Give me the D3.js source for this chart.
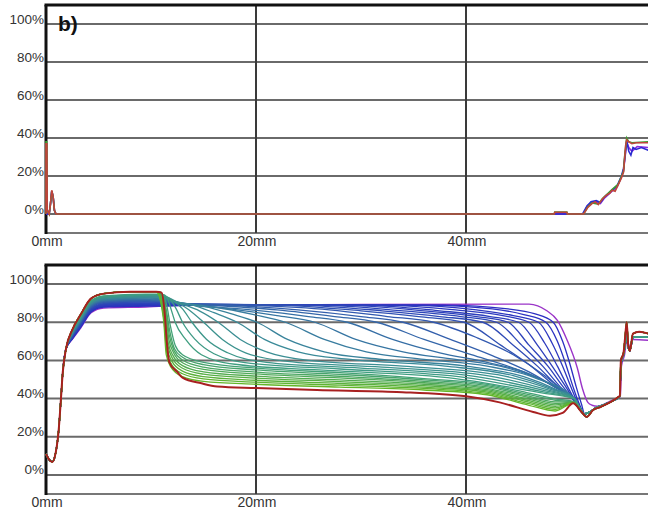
<!DOCTYPE html>
<html><head><meta charset="utf-8">
<script src="https://cdn.jsdelivr.net/npm/d3@7"></script>
<style>body{margin:0;background:#fff}svg{display:block}text{font-family:"Liberation Sans",Arial,sans-serif}</style>
</head><body><svg id="c" width="648" height="513"></svg>
<script>
// ---------- axis data ----------
const yTicks = [0, 20, 40, 60, 80, 100];
const yTickLabels = ["0%", "20%", "40%", "60%", "80%", "100%"];
const xTicks = [0, 20, 40];
const xTickLabels = ["0mm", "20mm", "40mm"];
const panelLabel = "b)";

// ---------- top panel series [mm, %] ----------
const topRed = [[0,0],[0,37],[0.08,37],[0.12,2],[0.3,0],[0.42,5],[0.55,12.5],[0.68,9],[0.8,2],[0.95,0],[48.4,0],[48.45,0.9],[49.6,0.9],[49.65,0],[51.2,0],[51.6,3.5],[52.0,5.5],[52.3,6.5],[52.6,5],[53.0,8],[53.4,10],[53.7,11],[53.9,12.5],[54.2,12],[54.5,15.5],[54.8,19],[55.0,22],[55.1,29],[55.2,36],[55.3,39],[55.5,38],[55.8,37],[56.2,37.5],[57.4,37.5]];
const topBlue = [[0,0],[0.3,0],[0.42,5],[0.55,12],[0.68,9],[0.8,2],[0.95,0],[51.1,0],[51.5,4],[51.9,6.5],[52.4,7],[52.8,6],[53.2,9],[53.6,11],[54.0,13],[54.4,15],[54.8,20],[55.0,24],[55.15,31],[55.3,38.5],[55.5,33],[55.7,31],[55.9,35],[56.2,34],[56.7,35],[57.4,33.5]];
const topPurple = [[0,0],[0.3,0],[0.42,5],[0.55,12],[0.68,9],[0.8,2],[0.95,0],[51.15,0],[51.55,4.5],[51.95,6],[52.4,6.5],[52.8,5.5],[53.2,8.5],[53.6,10.5],[54.0,12.5],[54.4,14.5],[54.8,19.5],[55.0,23],[55.15,30],[55.3,38],[55.5,35],[55.8,33],[56.3,35.5],[57.4,35]];
const topGreen = [[0,0],[0,38],[0.06,38],[0.12,2],[0.3,0],[0.42,5],[0.55,12],[0.68,9],[0.8,2],[0.95,0],[48.4,0],[48.45,1],[49.6,1],[49.65,0],[51.2,0],[51.6,3.8],[52.0,5.8],[52.6,5.2],[53.0,8.2],[53.4,10.2],[53.9,12.8],[54.5,15.8],[55.0,22.5],[55.1,30],[55.3,40],[55.5,38],[55.8,37.5],[57.4,38]];

// ---------- bottom panel series [mm, %] ----------
const riseHead = [[0,11],[0.3,8],[0.6,6.8],[0.9,11],[1.2,23],[1.4,38],[1.6,54],[1.9,66]];
const purpleMid = [[2.5,71],[3.3,77],[4.3,85],[5.5,87.5],[9.5,88],[14,89],[30,89.3],[46,89.5],[47.7,86],[48.7,81],[49.6,71],[50.6,56],[51.1,45],[51.6,38],[52.0,36.5],[52.5,36],[53.5,38],[54.5,40.5],[54.7,41],[54.8,57],[55.1,63],[55.3,70],[55.5,67],[55.9,71],[57.4,70.5]];
const blueTail = [[51.3,32],[51.8,33],[52.3,35],[53,36.5],[53.7,38],[54.5,40.5],[54.65,41.5],[54.75,58],[55,63],[55.2,70],[55.3,76],[55.45,67],[55.6,65],[55.9,72],[56.5,72.5],[57.4,72]];
const greenHead = [[2.5,76],[3.3,84],[4.3,92.5],[5.5,95],[8,96]];
const greenTail = [[51,33],[51.5,30.4],[52.1,34],[52.8,35.6],[53.7,38],[54.5,40.8],[54.65,41.5],[54.75,60],[55,64],[55.15,72],[55.3,80],[55.45,68],[55.6,65],[55.9,74],[56.5,75],[57.4,74]];

// blue -> teal curves, latest front first
const familyMid = [
 [[2.5,71.3],[3.3,77.4],[4.3,85.4],[5.5,87.9],[9.5,88.4],[14,88.8],[38,89],[44,87],[46.5,84.5],[48.3,80],[49.2,70],[49.9,58],[50.5,46],[51,37]],
 [[2.5,71.4],[3.3,77.6],[4.3,85.7],[5.5,88.2],[9.5,88.7],[14,88.9],[36,89],[42.5,87],[45.5,84],[47.6,80],[48.7,70],[49.5,58],[50.2,46],[50.8,37]],
 [[2.5,71.6],[3.3,77.9],[4.3,85.9],[5.5,88.4],[9.5,89],[14,89],[34,89],[41,86.5],[44.5,83.5],[46.9,80],[48.2,69],[49.2,57],[50,46],[50.7,37]],
 [[2.5,71.8],[3.3,78.1],[4.3,86.2],[5.5,88.7],[9.5,89.3],[14,89.1],[32,89],[39,86.5],[43.5,83.5],[46,80],[47.5,69],[48.7,57],[49.7,46],[50.6,37]],
 [[2.5,72],[3.3,78.4],[4.3,86.5],[5.5,89],[9.5,89.6],[14,89.2],[30,89],[37.5,86],[42.3,83],[45,80],[46.8,68],[48.2,57],[49.4,47],[50.5,37.5]],
 [[2.5,72.2],[3.3,78.7],[4.3,86.8],[5.5,89.3],[9.5,89.9],[14,89.3],[28,89],[36,86],[41,83],[44,80],[46,68],[47.8,57],[49.2,46.5],[50.4,38]],
 [[2.5,72.4],[3.3,78.9],[4.3,87.1],[5.5,89.6],[9.5,90.2],[14,89.4],[26,89],[34,86],[39.5,83],[42.9,80],[45.3,68],[47.3,57],[49,46],[50.4,38.5]],
 [[2.5,72.6],[3.3,79.2],[4.3,87.3],[5.5,89.8],[9.5,90.5],[14,89.5],[24,89],[32,86],[37.5,83],[41.6,80],[44.5,68],[46.8,57],[48.8,46],[50.3,39]],
 [[2.5,72.8],[3.3,79.5],[4.3,87.6],[5.5,90.1],[9.5,90.8],[13.5,89.6],[22,89],[30,86],[35.5,83],[39.8,80],[43.3,68],[46.2,57],[48.6,46],[50.3,39.5]],
 [[2.5,73],[3.3,79.7],[4.3,87.9],[5.5,90.4],[9.5,91.1],[13.5,89.7],[19,89],[27,86.5],[32.5,83],[36.9,80],[41,72],[44.5,63],[47.5,52],[49.3,44],[50.3,40],[50.8,35.5]],
 [[2.5,73.1],[3.3,80],[4.3,88.2],[5.5,90.7],[9.5,91.4],[13,89.8],[17,89],[24,86.5],[30,83],[34,80],[38.5,71],[42.5,62.5],[46,54],[48.5,46],[50.3,40],[50.8,35.5]],
 [[2.5,73.3],[3.3,80.2],[4.3,88.5],[5.5,91],[9.5,91.7],[12.5,90],[15.5,89],[22,86.5],[27.5,83],[31.5,80],[36,71],[40.5,63],[44.5,56],[47.5,49],[49.5,42.5],[50.3,40],[50.8,35.5]],
 [[2.5,73.5],[3.3,80.5],[4.3,88.8],[5.5,91.3],[9.5,92],[12,90.5],[14,89],[19.5,86.5],[25,83],[28.7,80],[33,71],[37.5,64],[42,59],[46,53],[48.5,46],[50.3,40],[50.8,35.5]],
 [[2.5,73.7],[3.3,80.8],[4.3,89],[5.5,91.5],[9.5,92.3],[11.5,91.5],[13.2,89.5],[17.5,87],[22,83.5],[25.6,80],[29.5,71],[34,64.5],[39,60.5],[44,56],[47.5,49],[50.3,40],[50.8,35.5]],
 [[2.5,73.9],[3.3,81],[4.3,89.3],[5.5,91.8],[9.5,92.6],[11.3,92],[12.8,90],[16,88],[19.8,84],[22.8,80],[26.5,71],[30.5,64.5],[36,60.5],[42,57],[46.5,51],[50.3,40],[50.8,35.5]],
 [[2.5,74.1],[3.3,81.3],[4.3,89.6],[5.5,92.1],[9.5,92.9],[11.2,92.5],[12.5,90.5],[15,88.5],[17.6,84.5],[20.1,80],[23,71],[26.5,64.5],[32,60.5],[40,57],[45.5,51.5],[48.5,45],[50.3,40],[50.8,35.5]],
 [[2.5,74.3],[3.3,81.6],[4.3,89.9],[5.5,92.4],[9.5,93.2],[11,93],[12.2,91],[14,89],[16,85],[18.2,80],[20.8,71],[24,64.5],[29,60.5],[38,57],[44.5,52],[48.3,45],[50.3,40],[50.8,35.5]],
 [[2.5,74.4],[3.3,81.8],[4.3,90.2],[5.5,92.7],[9.5,93.5],[11,93.5],[11.8,92],[13,89.5],[14.6,86],[16.4,80],[18.5,71],[21,64.5],[25,60],[34,57],[43,52.5],[48,45],[50.3,40],[50.8,35.5]],
 [[2.5,74.6],[3.3,82.1],[4.3,90.4],[5.5,92.9],[9.5,93.8],[11,93.8],[11.6,93],[12.5,90.5],[13.6,86.5],[15,80],[16.8,71],[19,64],[23,59.5],[32,56.5],[42,52],[47.8,44.5],[50.3,40],[50.8,35.5]],
 [[2.5,74.8],[3.3,82.3],[4.3,90.7],[5.5,93.2],[9.5,94.1],[11,94.1],[11.4,93.5],[12.2,91],[13,87],[13.9,80],[15.3,71],[17.3,64],[21,59],[30,56],[41,51.5],[47.6,44],[50.3,40],[50.8,35.5]],
 [[2.5,75],[3.3,82.6],[4.3,91],[5.5,93.5],[9.5,94.4],[11,94.4],[11.3,94],[11.9,91.5],[12.4,87],[13,80],[14.2,71],[16,63.5],[19.5,58.5],[28,55.5],[40,51],[47.4,43.5],[50.3,40],[50.8,35.5]],
 [[2.5,75.2],[3.3,82.9],[4.3,91.3],[5.5,93.8],[9.5,94.7],[10.8,94.7],[11.2,94.5],[11.6,92],[11.9,87],[12.3,80],[13.3,71],[14.8,63],[18,58],[26,55],[39,50.5],[47.2,43],[50.3,40],[50.8,35.5]]
];

// green curves, top of band first
const greenMid = [
 [[10.8,96],[11.45,90],[11.85,78],[12.3,68],[13,63],[15,59],[20,56],[28,53.6],[36,50.5],[42,47.5],[46,42.9],[48.5,39.9],[50.2,38.5]],
 [[10.75,96],[11.4,88],[11.8,75],[12.25,66],[13,61.7],[15,57.8],[20,55],[28,52.7],[36,49.8],[42,46.8],[46,42.1],[48.5,39.1],[50.2,38.3]],
 [[10.7,96],[11.38,87],[11.75,73],[12.2,65],[13,60.2],[15,56.5],[20,53.9],[28,51.7],[36,49],[42,46.1],[46,41.3],[48.5,38.3],[50.2,38.2]],
 [[10.65,96],[11.35,86],[11.7,71],[12.15,64],[13,58.8],[15,55.3],[20,52.9],[28,50.8],[36,48.3],[42,45.4],[46,40.5],[48.5,37.5],[50.2,38.1]],
 [[10.6,96],[11.32,85],[11.65,69],[12.1,62.5],[13,57.3],[15,54],[20,51.8],[28,49.8],[36,47.5],[42,44.7],[46,39.7],[48.5,36.7],[50.2,38]],
 [[10.55,96],[11.28,84],[11.6,68],[12.05,61],[13,55.9],[15,52.8],[20,50.7],[28,48.9],[36,46.8],[42,44],[46,38.9],[48.5,35.9],[50.2,37.9]],
 [[10.5,96.1],[11.25,83],[11.55,66],[12,59.5],[13,54.4],[15,51.5],[20,49.6],[28,47.9],[36,46],[42,43.4],[46,38.1],[48.5,35.1],[50.2,37.8]],
 [[10.5,96.1],[11.22,82],[11.5,64],[11.95,58],[13,53],[15,50.3],[20,48.6],[28,47],[36,45.3],[42,42.7],[46,37.3],[48.5,34.3],[50.2,37.7]],
 [[10.5,96.1],[11.2,81],[11.45,63],[11.9,56.5],[13,51.5],[15,49],[20,47.5],[28,46],[36,44.5],[42,42],[46,36.5],[48.5,33.5],[50.2,37.6]]
];
const redMid = [[2.5,76],[3.3,84],[4.3,92.5],[5.5,95],[8,96],[10.5,96],[11,95.5],[11.3,85],[11.5,70],[11.75,59],[12.5,54],[13,51],[14.8,48],[16.3,46.3],[20,45.5],[25.8,44.5],[33.4,43.5],[40,41.2],[43.2,38],[46.4,33],[48,31],[49.2,32.5],[50.2,37.5]];

// ---------- drawing ----------
const svg = d3.select("#c");
const W = 648;
const x = d3.scaleLinear().domain([0, 57.33]).range([46, 648]);
const panels = [
  {y: d3.scaleLinear().domain([-10, 110]).range([233, 5]), top: 5, bot: 233, lab: 246},
  {y: d3.scaleLinear().domain([-10, 110]).range([494, 265]), top: 265, bot: 494, lab: 507}
];

const colScale = d3.scaleLinear().domain([0, 8, 17, 22, 31])
  .range(["#2a2ac4", "#2f4ab6", "#3a8a98", "#3f9e80", "#62b628"]);

svg.append("defs").selectAll("clipPath").data(panels).join("clipPath")
  .attr("id", (d, i) => "clip" + i)
  .append("rect").attr("x", 44).attr("y", d => d.top).attr("width", W - 44).attr("height", d => d.bot - d.top);

panels.forEach((p, pi) => {
  const g = svg.append("g");
  // horizontal gridlines
  g.selectAll("line.h").data(yTicks).join("line")
    .attr("x1", x(0)).attr("x2", W)
    .attr("y1", d => p.y(d)).attr("y2", d => p.y(d))
    .attr("stroke", "#6a6a6a").attr("stroke-width", 2);
  // bottom border
  g.append("line").attr("x1", x(0)).attr("x2", W).attr("y1", p.bot).attr("y2", p.bot)
    .attr("stroke", "#777").attr("stroke-width", 2);
  // vertical gridlines
  g.selectAll("line.v").data(xTicks.slice(1)).join("line")
    .attr("x1", d => x(d)).attr("x2", d => x(d))
    .attr("y1", p.top).attr("y2", p.bot)
    .attr("stroke", "#3a3a3a").attr("stroke-width", 2);
  // top border
  g.append("line").attr("x1", x(0) - 1.5).attr("x2", W).attr("y1", p.top).attr("y2", p.top)
    .attr("stroke", "#111").attr("stroke-width", 3);
  // left axis
  g.append("line").attr("x1", x(0)).attr("x2", x(0)).attr("y1", p.top).attr("y2", p.bot + 1)
    .attr("stroke", "#111").attr("stroke-width", 3);
  // y labels
  g.selectAll("text.yl").data(yTicks).join("text")
    .attr("x", 44).attr("y", d => p.y(d) - 0.5)
    .attr("text-anchor", "end").attr("font-size", 13.5).attr("fill", "#333")
    .text((d, i) => yTickLabels[i]);
  // x labels
  g.selectAll("text.xl").data(xTicks).join("text")
    .attr("x", d => x(d) + 1).attr("y", p.lab)
    .attr("text-anchor", "middle").attr("font-size", 14).attr("fill", "#333")
    .text((d, i) => xTickLabels[i]);
});

// panel label
svg.append("text").attr("x", 58).attr("y", 31).attr("font-size", 21).attr("font-weight", "bold")
  .attr("fill", "#111").text(panelLabel);

// ---- top panel lines ----
const yT = panels[0].y, yB = panels[1].y;
const lineTop = d3.line().x(d => x(d[0])).y(d => yT(d[1]));
const gTop = svg.append("g").attr("clip-path", "url(#clip0)").attr("fill", "none");
[[topPurple, "#8a2be2"], [topBlue, "#2a2ad0"], [topGreen, "#3aa030"], [topRed, "#c0443c"]].forEach(([s, c]) => {
  gTop.append("path").attr("d", lineTop(s)).attr("stroke", c).attr("stroke-width", 1.6);
});

// ---- bottom panel lines ----
const lineBot = d3.line().x(d => x(d[0])).y(d => yB(d[1])).curve(d3.curveMonotoneX);
const gBot = svg.append("g").attr("clip-path", "url(#clip1)").attr("fill", "none")
  .attr("stroke-linejoin", "round");
gBot.append("path").attr("d", lineBot(riseHead.concat(purpleMid)))
  .attr("stroke", "#9a34c8").attr("stroke-width", 1.4);
familyMid.forEach((m, i) => {
  gBot.append("path").attr("d", lineBot(riseHead.concat(m, blueTail)))
    .attr("stroke", colScale(i + 1)).attr("stroke-width", 1.3);
});
greenMid.forEach((m, i) => {
  gBot.append("path").attr("d", lineBot(riseHead.concat(greenHead, m, greenTail)))
    .attr("stroke", colScale(23 + i)).attr("stroke-width", 1.3);
});
gBot.append("path").attr("d", lineBot(riseHead.concat(redMid, greenTail)))
  .attr("stroke", "#a82020").attr("stroke-width", 2);
</script>
</body></html>
